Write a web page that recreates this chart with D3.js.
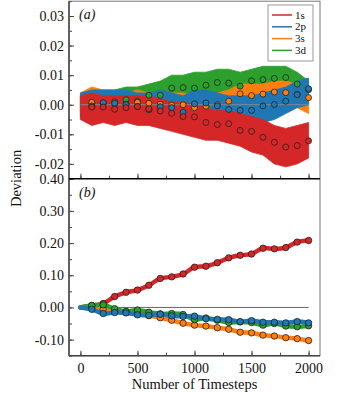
<!DOCTYPE html>
<html>
<head>
<meta charset="utf-8">
<script src="https://cdn.jsdelivr.net/npm/d3@7"></script>
<style>
  body { margin: 0; background: #fff; }
  svg { display: block; }
  svg text { font-family: "Liberation Serif", "Times New Roman", "DejaVu Serif", serif; }
</style>
</head>
<body>
<svg id="chart" width="341" height="393"></svg>
<script>
// ---- data ----
const series = ['1s', '2p', '3s', '3d'];
const colors = ['#d62728', '#1f77b4', '#ff7f0e', '#2ca02c'];

// band envelopes (panel a) every 100 timesteps, 0..2000
const bandSteps = d3.range(0, 2001, 100);
const redHi   = [0.003, 0.004, 0.003, 0.003, 0.003, 0.003, 0.003, 0.002, 0.001, 0.001, 0.000, -0.001, -0.002, -0.002, -0.003, -0.004, -0.005, -0.007, -0.008, -0.007, -0.006];
const redLo   = [-0.005, -0.007, -0.006, -0.007, -0.006, -0.007, -0.007, -0.008, -0.009, -0.010, -0.011, -0.012, -0.012, -0.013, -0.014, -0.016, -0.017, -0.020, -0.021, -0.020, -0.018];
const blueHi  = [0.004, 0.005, 0.005, 0.005, 0.005, 0.004, 0.004, 0.005, 0.004, 0.003, 0.005, 0.005, 0.004, 0.003, 0.003, 0.003, 0.004, 0.005, 0.006, 0.008, 0.009];
const blueLo  = [-0.004, -0.005, -0.004, -0.005, -0.005, -0.005, -0.006, -0.005, -0.006, -0.007, -0.005, -0.005, -0.006, -0.007, -0.007, -0.007, -0.006, -0.005, -0.003, -0.001, 0.000];
const orangeHi = [0.004, 0.006, 0.005, 0.004, 0.004, 0.005, 0.004, 0.004, 0.004, 0.004, 0.003, 0.003, 0.004, 0.005, 0.007, 0.007, 0.007, 0.008, 0.008, 0.007, 0.006];
const orangeLo = [-0.004, -0.004, -0.004, -0.004, -0.004, -0.004, -0.004, -0.004, -0.004, -0.004, -0.005, -0.004, -0.004, -0.003, -0.001, -0.001, 0.000, 0.000, 0.000, -0.001, -0.003];
const greenHi = [0.003, 0.005, 0.005, 0.005, 0.006, 0.006, 0.007, 0.008, 0.010, 0.010, 0.011, 0.011, 0.012, 0.012, 0.011, 0.012, 0.013, 0.013, 0.013, 0.011, 0.008];
const greenLo = [-0.003, -0.003, -0.003, -0.002, -0.002, -0.002, -0.001, 0.000, 0.001, 0.002, 0.002, 0.003, 0.003, 0.003, 0.002, 0.004, 0.004, 0.005, 0.005, 0.003, 0.002];

// markers every 100 timesteps, 100..2000
const markSteps = d3.range(100, 2001, 100);
const aRed    = [-0.0008, -0.0008, -0.0015, -0.0010, -0.0006, -0.0014, -0.0021, -0.0029, -0.0040, -0.0041, -0.0060, -0.0067, -0.0064, -0.0087, -0.0090, -0.0110, -0.0127, -0.0143, -0.0138, -0.0122];
const aBlue   = [-0.0004, 0.0007, 0.0005, 0.0000, -0.0006, -0.0017, -0.0007, -0.0010, -0.0025, 0.0003, 0.0006, -0.0004, -0.0016, -0.0019, -0.0019, -0.0004, 0.0001, 0.0012, 0.0034, 0.0054];
const aOrange = [0.0008, 0.0005, 0.0003, 0.0002, 0.0008, 0.0005, 0.0002, -0.0001, 0.0000, -0.0010, -0.0005, 0.0000, 0.0012, 0.0037, 0.0031, 0.0036, 0.0043, 0.0041, 0.0035, 0.0024];
const aGreen  = [0.0005, 0.0005, 0.0010, 0.0017, 0.0012, 0.0032, 0.0032, 0.0056, 0.0058, 0.0056, 0.0066, 0.0075, 0.0073, 0.0063, 0.0081, 0.0085, 0.0089, 0.0092, 0.0070, 0.0051];

const bRed    = [0.006, 0.012, 0.034, 0.047, 0.054, 0.069, 0.090, 0.095, 0.104, 0.125, 0.128, 0.139, 0.154, 0.162, 0.166, 0.184, 0.182, 0.186, 0.203, 0.208];
const bBlue   = [-0.006, -0.019, -0.016, -0.017, -0.023, -0.025, -0.021, -0.026, -0.028, -0.027, -0.035, -0.037, -0.038, -0.044, -0.041, -0.046, -0.046, -0.048, -0.044, -0.048];
const bOrange = [-0.002, -0.006, -0.010, -0.014, -0.018, -0.025, -0.032, -0.040, -0.049, -0.055, -0.058, -0.063, -0.068, -0.077, -0.079, -0.086, -0.089, -0.094, -0.097, -0.103];
const bGreen  = [0.006, 0.008, -0.004, -0.012, -0.008, -0.015, -0.020, -0.019, -0.022, -0.038, -0.033, -0.040, -0.047, -0.045, -0.047, -0.055, -0.050, -0.058, -0.060, -0.057];

const yTicksA = [-0.02, -0.01, 0.00, 0.01, 0.02, 0.03];
const yTicksB = [-0.10, 0.00, 0.10, 0.20, 0.30, 0.40];
const xTicks = [0, 500, 1000, 1500, 2000];

// ---- layout ----
const svg = d3.select('#chart');
const left = 69, right = 320;
const aTop = 1.2, aBottom = 178.7, bBottom = 355.7;
const serif = '"Liberation Serif", "Times New Roman", "DejaVu Serif", serif';

const x = d3.scaleLinear().domain([-100, 2100]).range([left, right]);
const yA = d3.scaleLinear().domain([-0.025, 0.035]).range([aBottom, aTop]);
const yB = d3.scaleLinear().domain([-0.15, 0.40]).range([bBottom, aBottom]);

const fmt = d => d3.format('.2f')(d).replace('−', '-');
const axisColor = '#444';

svg.append('defs').append('clipPath').attr('id', 'clipA')
  .append('rect').attr('x', left).attr('y', aTop).attr('width', right - left).attr('height', aBottom - aTop);
svg.select('defs').append('clipPath').attr('id', 'clipB')
  .append('rect').attr('x', left).attr('y', aBottom).attr('width', right - left).attr('height', bBottom - aBottom);

// ---- panel (a) ----
const gA = svg.append('g').attr('clip-path', 'url(#clipA)');
const bands = [
  { c: colors[3], hi: greenHi, lo: greenLo },
  { c: colors[2], hi: orangeHi, lo: orangeLo },
  { c: colors[1], hi: blueHi, lo: blueLo },
  { c: colors[0], hi: redHi, lo: redLo }
];
const area = (hi, lo) => d3.area()
  .x((d, i) => x(bandSteps[i]))
  .y0((d, i) => yA(lo[i]))
  .y1((d, i) => yA(hi[i]));

bands.forEach(b => {
  gA.append('path')
    .attr('d', area(b.hi, b.lo)(bandSteps))
    .attr('fill', b.c)
    .attr('stroke', b.c)
    .attr('stroke-width', 0.8);
});

gA.append('line')
  .attr('x1', x(0)).attr('x2', x(2000))
  .attr('y1', yA(0)).attr('y2', yA(0))
  .attr('stroke', '#888').attr('stroke-width', 1);

const marksA = [
  { c: colors[3], v: aGreen },
  { c: colors[2], v: aOrange },
  { c: colors[1], v: aBlue },
  { c: colors[0], v: aRed }
];
marksA.forEach(m => {
  gA.selectAll(null)
    .data(m.v)
    .enter()
    .append('circle')
    .attr('cx', (d, i) => x(markSteps[i]))
    .attr('cy', d => yA(d))
    .attr('r', 3)
    .attr('fill', m.c)
    .attr('stroke', '#222')
    .attr('stroke-width', 0.8);
});

// ---- panel (b) ----
const gB = svg.append('g').attr('clip-path', 'url(#clipB)');
gB.append('line')
  .attr('x1', x(0)).attr('x2', x(2000))
  .attr('y1', yB(0)).attr('y2', yB(0))
  .attr('stroke', '#666').attr('stroke-width', 1);

const linesB = [
  { c: colors[0], v: bRed },
  { c: colors[2], v: bOrange },
  { c: colors[3], v: bGreen },
  { c: colors[1], v: bBlue }
];
const lineB = d3.line()
  .x(d => x(d[0]))
  .y(d => yB(d[1]))
  .curve(d3.curveCatmullRom);

linesB.forEach(l => {
  const pts = [[0, 0]].concat(markSteps.map((t, i) => [t, l.v[i]]));
  gB.append('path')
    .attr('d', lineB(pts))
    .attr('fill', 'none')
    .attr('stroke', l.c)
    .attr('stroke-width', 4.5)
    .attr('stroke-linejoin', 'round')
    .attr('stroke-linecap', 'round');
});
linesB.forEach(l => {
  gB.selectAll(null)
    .data(l.v)
    .enter()
    .append('circle')
    .attr('cx', (d, i) => x(markSteps[i]))
    .attr('cy', d => yB(d))
    .attr('r', 3.2)
    .attr('fill', l.c)
    .attr('stroke', '#222')
    .attr('stroke-width', 0.8);
});

// ---- axes ----
function styleAxis(g) {
  g.attr('font-family', serif);
  g.select('.domain').remove();
  g.selectAll('.tick line').attr('stroke', axisColor);
  g.selectAll('.tick text')
    .attr('fill', '#111')
    .style('font-size', '14px')
    .style('font-family', serif);
}

// y axes, ticks inside
const yMinorA = d3.range(-0.025, 0.0351, 0.005);
const yMinorB = d3.range(-0.15, 0.401, 0.05);

svg.append('g').attr('transform', `translate(${left},0)`)
  .call(d3.axisRight(yA).tickValues(yMinorA).tickSize(3).tickFormat(''))
  .call(styleAxis);
svg.append('g').attr('transform', `translate(${left},0)`)
  .call(d3.axisRight(yA).tickValues(yTicksA).tickSize(5).tickFormat(''))
  .call(styleAxis);
svg.append('g').attr('transform', `translate(${left},0)`)
  .call(d3.axisLeft(yA).tickValues(yTicksA).tickSize(0).tickPadding(5).tickFormat(fmt))
  .call(styleAxis);

svg.append('g').attr('transform', `translate(${left},0)`)
  .call(d3.axisRight(yB).tickValues(yMinorB).tickSize(3).tickFormat(''))
  .call(styleAxis);
svg.append('g').attr('transform', `translate(${left},0)`)
  .call(d3.axisRight(yB).tickValues(yTicksB).tickSize(5).tickFormat(''))
  .call(styleAxis);
svg.append('g').attr('transform', `translate(${left},0)`)
  .call(d3.axisLeft(yB).tickValues(yTicksB).tickSize(0).tickPadding(5).tickFormat(fmt))
  .call(styleAxis);

// x ticks, inside, on both panels
const xMinor = d3.range(0, 2001, 250);
[aBottom, bBottom].forEach(yy => {
  svg.append('g').attr('transform', `translate(0,${yy})`)
    .call(d3.axisTop(x).tickValues(xMinor).tickSize(3).tickFormat(''))
    .call(styleAxis);
  svg.append('g').attr('transform', `translate(0,${yy})`)
    .call(d3.axisTop(x).tickValues(xTicks).tickSize(5).tickFormat(''))
    .call(styleAxis);
});
svg.append('g').attr('transform', `translate(0,${bBottom})`)
  .call(d3.axisBottom(x).tickValues(xTicks).tickSize(0).tickPadding(7).tickFormat(d3.format('d')))
  .call(styleAxis);

// frames
svg.append('rect')
  .attr('x', left).attr('y', aTop).attr('width', right - left).attr('height', bBottom - aTop)
  .attr('fill', 'none').attr('stroke', '#777').attr('stroke-width', 1);
svg.append('line')
  .attr('x1', left).attr('x2', left).attr('y1', aTop).attr('y2', bBottom)
  .attr('stroke', axisColor).attr('stroke-width', 1.5);
svg.append('line')
  .attr('x1', left).attr('x2', right).attr('y1', bBottom).attr('y2', bBottom)
  .attr('stroke', axisColor).attr('stroke-width', 1.5);
svg.append('line')
  .attr('x1', left).attr('x2', right).attr('y1', aBottom).attr('y2', aBottom)
  .attr('stroke', '#000').attr('stroke-width', 1.5);

// panel labels
svg.append('text').attr('x', 79).attr('y', 19)
  .style('font-style', 'italic').style('font-size', '14px').attr('fill', '#111').text('(a)');
svg.append('text').attr('x', 79).attr('y', 197)
  .style('font-style', 'italic').style('font-size', '14px').attr('fill', '#111').text('(b)');

// axis titles
svg.append('text')
  .attr('transform', `translate(21,${(aTop + bBottom) / 2}) rotate(-90)`)
  .attr('text-anchor', 'middle')
  .style('font-size', '14.5px').attr('fill', '#111')
  .text('Deviation');
svg.append('text')
  .attr('x', (left + right) / 2).attr('y', 389)
  .attr('text-anchor', 'middle')
  .style('font-size', '14.5px').attr('fill', '#111')
  .text('Number of Timesteps');

// legend
const leg = svg.append('g');
leg.append('rect')
  .attr('x', 268).attr('y', 5).attr('width', 45).attr('height', 56)
  .attr('fill', '#fff').attr('stroke', '#999').attr('stroke-width', 1);
series.forEach((s, i) => {
  const yy = 15 + i * 11.8;
  leg.append('line')
    .attr('x1', 272).attr('x2', 292).attr('y1', yy).attr('y2', yy)
    .attr('stroke', colors[i]).attr('stroke-width', 1.5);
  leg.append('text')
    .attr('x', 295).attr('y', yy + 3.5)
    .style('font-size', '11px').attr('fill', '#111')
    .text(s);
});
</script>
</body>
</html>
